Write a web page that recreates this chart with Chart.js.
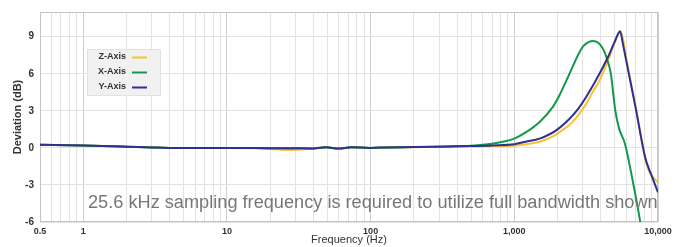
<!DOCTYPE html>
<html>
<head>
<meta charset="utf-8">
<script src="https://cdn.jsdelivr.net/npm/chart.js@4/dist/chart.umd.min.js"></script>
<style>
html,body{margin:0;padding:0;background:#fff;}
#wrap{width:687px;height:247px;position:relative;}
</style>
</head>
<body>
<div id="wrap"><canvas id="c" width="687" height="247"></canvas></div>
<script>
// ---- data ----
const seriesNames = ['Z-Axis', 'X-Axis', 'Y-Axis'];
const seriesColors = ['#f7c12f', '#13994a', '#2e3192'];

const zFreq = [0.5, 1, 2, 3, 4, 10, 16, 20, 27, 35, 40, 49, 60, 73, 100, 130, 200, 350, 500, 700, 1000, 1200, 1500, 1900, 2200, 2500, 3100, 3500, 3900, 4500, 4900, 5200, 5500, 5750, 6000, 7000, 8000, 8600, 9300, 10000];
const zDev  = [0.25, 0.2, 0.1, 0.03, 0, 0, -0.02, -0.1, -0.17, -0.12, -0.04, 0.04, -0.06, 0.04, 0, 0.03, 0.06, 0.1, 0.12, 0.15, 0.18, 0.3, 0.5, 1.0, 1.5, 2.0, 3.4, 4.5, 5.4, 7.1, 8.3, 9.0, 9.4, 8.6, 7.3, 3.3, -0.4, -1.8, -2.4, -2.8];

const xFreq = [0.5, 1, 2, 3, 4, 10, 20, 30, 38, 49, 60, 73, 100, 130, 200, 350, 500, 700, 800, 1000, 1200, 1500, 1850, 2050, 2400, 2800, 3000, 3550, 4100, 4500, 4700, 4900, 5050, 5350, 5900, 6600, 7550, 7800];
const xDev  = [0.25, 0.2, 0.1, 0.03, 0, 0, -0.02, -0.03, -0.05, 0.05, -0.06, 0.05, 0, 0.04, 0.07, 0.12, 0.18, 0.33, 0.45, 0.75, 1.25, 2.1, 3.3, 4.2, 5.9, 7.6, 8.2, 8.65, 8.1, 6.9, 6.0, 4.2, 3.0, 1.6, 0.3, -2.4, -6.1, -7.2];

const yFreq = [0.5, 1, 2, 3, 4, 10, 20, 30, 38, 49, 60, 73, 100, 130, 200, 350, 500, 700, 1000, 1200, 1500, 2000, 2800, 3650, 4550, 5000, 5450, 5700, 6000, 7000, 8150, 9000, 10000];
const yDev  = [0.25, 0.2, 0.1, 0.03, 0, 0, -0.02, -0.03, -0.05, 0.05, -0.06, 0.05, 0, 0.04, 0.07, 0.12, 0.15, 0.2, 0.3, 0.5, 0.75, 1.5, 3.2, 5.35, 7.5, 8.6, 9.45, 8.4, 7.1, 3.2, -0.8, -2.2, -3.6];

const xLabelTicks = [0.5, 1, 10, 100, 1000, 10000];
const yTicks = [-6, -3, 0, 3, 6, 9];
const xTitle = 'Frequency (Hz)';
const yTitle = 'Deviation (dB)';
const note = '25.6 kHz sampling frequency is required to utilize full bandwidth shown';

// ---- helpers ----
const FONT = "'Liberation Sans', Arial, Helvetica, sans-serif";
function pts(f, v){ return f.map((x,i)=>({x:x, y:v[i]})); }
function isDecade(v){ const l = Math.log10(v); return Math.abs(l - Math.round(l)) < 1e-9; }
function gridValues(){
  const out = [];
  for (let e = -1; e <= 4; e++) {
    for (let m = 1; m <= 9; m++) {
      const v = +(m * Math.pow(10, e)).toPrecision(6);
      if (v >= 0.5 && v <= 10000) out.push(v);
    }
  }
  return out;
}

const series = [
  {name: seriesNames[2], color: seriesColors[2], data: pts(yFreq, yDev)},
  {name: seriesNames[1], color: seriesColors[1], data: pts(xFreq, xDev)},
  {name: seriesNames[0], color: seriesColors[0], data: pts(zFreq, zDev)}
];

const decorPlugin = {
  id: 'decor',
  beforeDatasetsDraw(chart){
    const {ctx, chartArea:a} = chart;
    ctx.save();
    ctx.strokeStyle = '#c4c4c4';
    ctx.lineWidth = 1;
    ctx.strokeRect(Math.round(a.left)+0.5, Math.round(a.top)+0.5, Math.round(a.right-a.left)-1, Math.round(a.bottom-a.top)-1);
    ctx.restore();
  },
  afterDatasetsDraw(chart){
    const {ctx, chartArea:a} = chart;
    ctx.save();
    // note text
    const left = a.left + 48, right = a.right;
    ctx.font = '100px ' + FONT;
    const w100 = ctx.measureText(note).width;
    const size = 100 * (right - left) / w100;
    ctx.font = size.toFixed(2) + 'px ' + FONT;
    ctx.fillStyle = '#777777';
    ctx.textBaseline = 'alphabetic';
    ctx.textAlign = 'left';
    ctx.fillText(note, left, a.bottom - 14);

    // legend
    const bx = a.left + 47, by = a.top + 37, bw = 74, bh = 47;
    ctx.fillStyle = '#f1f1f1';
    ctx.fillRect(bx, by, bw, bh);
    ctx.strokeStyle = '#e2e2e2';
    ctx.strokeRect(bx + 0.5, by + 0.5, bw - 1, bh - 1);
    ctx.font = 'bold 9px ' + FONT;
    ctx.textAlign = 'right';
    ctx.textBaseline = 'middle';
    [0, 1, 2].forEach((k, i) => {
      const yy = by + 8 + i * 15;
      ctx.fillStyle = '#333';
      ctx.fillText(seriesNames[k], bx + 39, yy);
      ctx.strokeStyle = seriesColors[k];
      ctx.lineWidth = 2;
      ctx.beginPath();
      ctx.moveTo(bx + 45, yy + 0.5);
      ctx.lineTo(bx + 60, yy + 0.5);
      ctx.stroke();
    });
    ctx.restore();
  }
};

new Chart(document.getElementById('c'), {
  type: 'line',
  data: {
    datasets: series.map(s => ({
      label: s.name,
      data: s.data,
      borderColor: s.color,
      backgroundColor: s.color,
      borderWidth: 2,
      pointRadius: 0,
      fill: false,
      cubicInterpolationMode: 'monotone'
    }))
  },
  options: {
    responsive: false,
    animation: false,
    devicePixelRatio: 1,
    layout: {padding: {top: 10, right: 29, left: 0, bottom: 0}},
    plugins: {legend: {display: false}, tooltip: {enabled: false}},
    scales: {
      x: {
        type: 'logarithmic',
        min: 0.5, max: 10000,
        afterBuildTicks(scale){ scale.ticks = gridValues().map(v => ({value: v})); },
        afterFit(scale){ scale.height = 25; },
        grid: {
          drawTicks: false,
          color: c => (c.tick && isDecade(c.tick.value)) ? '#cfcfcf' : '#e3e3e3',
          lineWidth: 1
        },
        border: {display: false},
        ticks: {
          autoSkip: false, maxRotation: 0, padding: 4,
          color: '#333',
          font: {family: FONT, size: 9, weight: 'bold'},
          callback(v){ return xLabelTicks.includes(v) ? v.toLocaleString('en-US') : ''; }
        },
        title: {display: true, text: xTitle, color: '#333',
          font: {family: FONT, size: 11}, padding: {top: 0, bottom: 0}}
      },
      y: {
        type: 'linear',
        min: -6, max: 11,
        afterBuildTicks(scale){ scale.ticks = yTicks.map(v => ({value: v})); },
        afterFit(scale){ scale.width = 40; },
        grid: {drawTicks: false, color: '#e3e3e3', lineWidth: 1},
        border: {display: false},
        ticks: {padding: 6, color: '#333', font: {family: FONT, size: 10, weight: 'bold'}},
        title: {display: true, text: yTitle, color: '#333',
          font: {family: FONT, size: 11, weight: 'bold'}, padding: {top: 11, bottom: 0}}
      }
    }
  },
  plugins: [decorPlugin]
});
</script>
</body>
</html>
